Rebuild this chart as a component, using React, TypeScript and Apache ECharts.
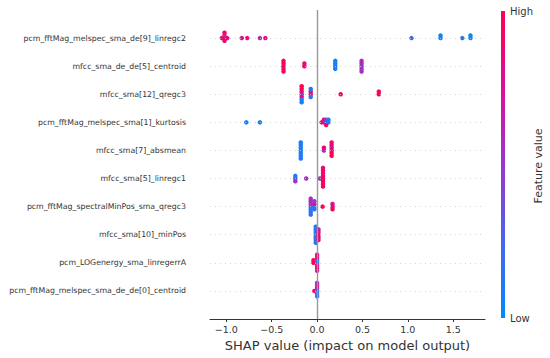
import React, { useEffect, useRef } from 'react';
import * as echarts from 'echarts';

const features = [
  'pcm_fftMag_melspec_sma_de[9]_linregc2',
  'mfcc_sma_de_de[5]_centroid',
  'mfcc_sma[12]_qregc3',
  'pcm_fftMag_melspec_sma[1]_kurtosis',
  'mfcc_sma[7]_absmean',
  'mfcc_sma[5]_linregc1',
  'pcm_fftMag_spectralMinPos_sma_qregc3',
  'mfcc_sma[10]_minPos',
  'pcm_LOGenergy_sma_linregerrA',
  'pcm_fftMag_melspec_sma_de_de[0]_centroid',
];

const xTicks = [-1, -0.5, 0, 0.5, 1, 1.5];
const X_MIN = -1.18;
const X_MAX = 1.85;

// SHAP values and (normalised) feature values, one pair per feature row
const shap1 = [-1.02, -1.02, -1.02, -1.02, -1.05, -0.99, -0.83, -0.77, -0.63, -0.57, 1.04, 1.36, 1.36, 1.6, 1.69, 1.69];
const val1 = [0.95, 0.5, 0.9, 1.0, 0.92, 0.9, 0.82, 0.85, 0.6, 0.88, 0.2, 0.1, 0.05, 0.15, 0.05, 0.0];

const shap2 = [-0.37, -0.37, -0.37, -0.37, -0.37, -0.14, -0.14, 0.2, 0.2, 0.2, 0.2, 0.49, 0.49, 0.49, 0.49, 0.49];
const val2 = [1.0, 0.95, 0.9, 1.0, 0.95, 0.9, 0.85, 0.05, 0.1, 0.1, 0.05, 0.4, 0.55, 0.5, 0.6, 0.55];

const shap3 = [-0.17, -0.17, -0.17, -0.17, -0.17, -0.17, -0.17, -0.07, -0.07, -0.07, -0.07, 0.26, 0.68, 0.68];
const val3 = [0.4, 0.8, 0.9, 0.95, 0.1, 1.0, 0.05, 0.75, 0.85, 0.15, 0.1, 1.0, 1.0, 0.95];

const shap4 = [-0.78, -0.63, 0.05, 0.075, 0.075, 0.1, 0.1, 0.1, 0.125, 0.125];
const val4 = [0.1, 0.05, 0.9, 0.8, 0.85, 0.15, 0.55, 1.0, 0.1, 0.05];

const shap5 = [-0.18, -0.18, -0.18, -0.18, -0.18, -0.18, -0.18, 0.075, 0.075, 0.16, 0.16, 0.16, 0.16, 0.16, 0.16];
const val5 = [0.05, 0.1, 0.08, 0.12, 0.05, 0.1, 0.15, 0.55, 0.9, 0.85, 0.9, 0.95, 0.8, 1.0, 0.9];

const shap6 = [-0.24, -0.24, -0.24, -0.12, 0.03, 0.065, 0.065, 0.065, 0.065, 0.065, 0.065, 0.065, 0.065];
const val6 = [0.3, 0.1, 0.5, 0.55, 0.5, 0.9, 0.95, 1.0, 0.85, 0.9, 1.0, 0.95, 0.85];

const shap7 = [-0.07, -0.07, -0.07, -0.07, -0.07, -0.07, -0.07, -0.03, -0.03, -0.03, -0.03, 0.06, 0.17, 0.17, 0.17];
const val7 = [0.35, 0.5, 0.1, 0.6, 0.15, 0.55, 0.2, 0.1, 0.8, 0.15, 0.5, 1.0, 0.9, 0.8, 0.95];

const shap8 = [-0.015, -0.015, -0.015, -0.015, -0.015, -0.015, -0.015, 0.015, 0.015, 0.015, 0.015, 0.015];
const val8 = [0.1, 0.05, 0.15, 0.1, 0.2, 0.05, 0.1, 0.9, 0.8, 0.95, 0.75, 0.85];

const shap9 = [-0.04, -0.04, 0.0, 0.0, 0.0, 0.0, 0.0, 0.0, 0.0];
const val9 = [0.95, 1.0, 0.1, 0.15, 0.75, 0.9, 0.95, 0.8, 0.7];

const shap10 = [-0.03, 0.0, 0.0, 0.0, 0.0, 0.0, 0.0];
const val10 = [0.95, 0.15, 0.55, 0.1, 0.8, 0.2, 0.6];

const shapRows = [shap1, shap2, shap3, shap4, shap5, shap6, shap7, shap8, shap9, shap10];
const valRows = [val1, val2, val3, val4, val5, val6, val7, val8, val9, val10];

const cmapStops: [number, number[]][] = [
  [0, [0, 139, 251]],
  [0.25, [75, 99, 237]],
  [0.5, [155, 54, 204]],
  [0.75, [216, 16, 154]],
  [1, [255, 0, 82]],
];

function colorAt(v: number): string {
  const t = Math.max(0, Math.min(1, v));
  for (let i = 1; i < cmapStops.length; i++) {
    const [o1, c1] = cmapStops[i];
    const [o0, c0] = cmapStops[i - 1];
    if (t <= o1) {
      const f = (t - o0) / (o1 - o0);
      const c = c0.map((a, k) => Math.round(a + (c1[k] - a) * f));
      return `rgb(${c[0]},${c[1]},${c[2]})`;
    }
  }
  const c = cmapStops[cmapStops.length - 1][1];
  return `rgb(${c[0]},${c[1]},${c[2]})`;
}

const STEP = 0.095;

function buildPoints(): number[][] {
  const n = features.length;
  const pts: number[][] = [];
  shapRows.forEach((row, i) => {
    const base = n - 1 - i;
    const counts: Record<string, number> = {};
    row.forEach((x, j) => {
      const key = x.toFixed(4);
      const layer = counts[key] || 0;
      counts[key] = layer + 1;
      const off = Math.ceil(layer / 2) * (layer % 2 === 1 ? 1 : -1) * STEP;
      pts.push([x, base + off, valRows[i][j]]);
    });
  });
  return pts;
}

const FONT = 'DejaVu Sans';

export default function App() {
  const ref = useRef<HTMLDivElement>(null);
  useEffect(() => {
    if (!ref.current) return;
    const chart = echarts.init(ref.current, null, { renderer: 'svg' });
    const n = features.length;
    const pts = buildPoints();
    const gradStops = cmapStops
      .slice()
      .reverse()
      .map(([o, c]) => ({ offset: 1 - o, color: `rgb(${c[0]},${c[1]},${c[2]})` }));
    const gridLines = features.map((_, i) => [
      { coord: [X_MIN, i], lineStyle: { color: '#cccccc', width: 0.8, type: [1, 4] } },
      { coord: [X_MAX, i] },
    ]);
    chart.setOption({
      animation: false,
      backgroundColor: '#ffffff',
      textStyle: { fontFamily: FONT },
      grid: { left: 210, right: 65, top: 10, bottom: 39, containLabel: false },
      xAxis: {
        type: 'value',
        min: X_MIN,
        max: X_MAX,
        name: 'SHAP value (impact on model output)',
        nameLocation: 'middle',
        nameGap: 19,
        nameTextStyle: { fontSize: 13, color: '#333333', fontFamily: FONT },
        axisLine: { show: true, onZero: false, lineStyle: { color: '#333333', width: 1 } },
        axisTick: { show: true, length: 3, lineStyle: { color: '#333333' }, customValues: xTicks },
        axisLabel: {
          show: true,
          fontSize: 9.5,
          color: '#333333',
          fontFamily: FONT,
          margin: 5,
          customValues: xTicks,
          formatter: (v: number) => (v < 0 ? '\u2212' : '') + Math.abs(v).toFixed(1),
        },
        splitLine: { show: false },
      },
      yAxis: {
        type: 'value',
        min: -1,
        max: n,
        interval: 1,
        axisLine: { show: false, onZero: false },
        axisTick: { show: false },
        splitLine: { show: false },
        axisLabel: {
          fontSize: 7.8,
          color: '#333333',
          fontFamily: FONT,
          margin: 24,
          formatter: (v: number) => {
            const idx = n - 1 - Math.round(v);
            return idx >= 0 && idx < n && Math.abs(v - Math.round(v)) < 1e-6 ? features[idx] : '';
          },
        },
      },
      series: [
        {
          type: 'scatter',
          data: [],
          z: 1,
          silent: true,
          markLine: {
            silent: true,
            symbol: ['none', 'none'],
            label: { show: false },
            animation: false,
            lineStyle: { color: '#cccccc', width: 0.8, type: [1, 4] },
            data: [
              ...gridLines,
              [
                { coord: [0, -1], lineStyle: { color: '#999999', width: 1.4, type: 'solid' } },
                { coord: [0, n] },
              ],
            ],
          },
        },
        {
          type: 'scatter',
          z: 3,
          symbolSize: 4.5,
          data: pts,
          itemStyle: {
            opacity: 1,
            color: (p: any) => colorAt(p.data[2]),
          },
        },
      ],
      graphic: [
        {
          type: 'rect',
          shape: { x: 501, y: 11, width: 4, height: 307 },
          style: { fill: new echarts.graphic.LinearGradient(0, 0, 0, 1, gradStops) },
        },
        {
          type: 'text',
          x: 510,
          y: 11,
          style: { text: 'High', fontSize: 10, fill: '#333333', fontFamily: FONT, verticalAlign: 'middle', align: 'left' },
        },
        {
          type: 'text',
          x: 510,
          y: 318,
          style: { text: 'Low', fontSize: 10, fill: '#333333', fontFamily: FONT, verticalAlign: 'middle', align: 'left' },
        },
        {
          type: 'text',
          x: 538,
          y: 166,
          rotation: Math.PI / 2,
          style: { text: 'Feature value', fontSize: 11, fill: '#333333', fontFamily: FONT, verticalAlign: 'middle', align: 'center' },
        },
      ],
    });
    return () => chart.dispose();
  }, []);
  return (
    <div
      ref={ref}
      style={{ position: 'fixed', left: 0, top: 0, width: 550, height: 358, background: '#fff' }}
    />
  );
}
